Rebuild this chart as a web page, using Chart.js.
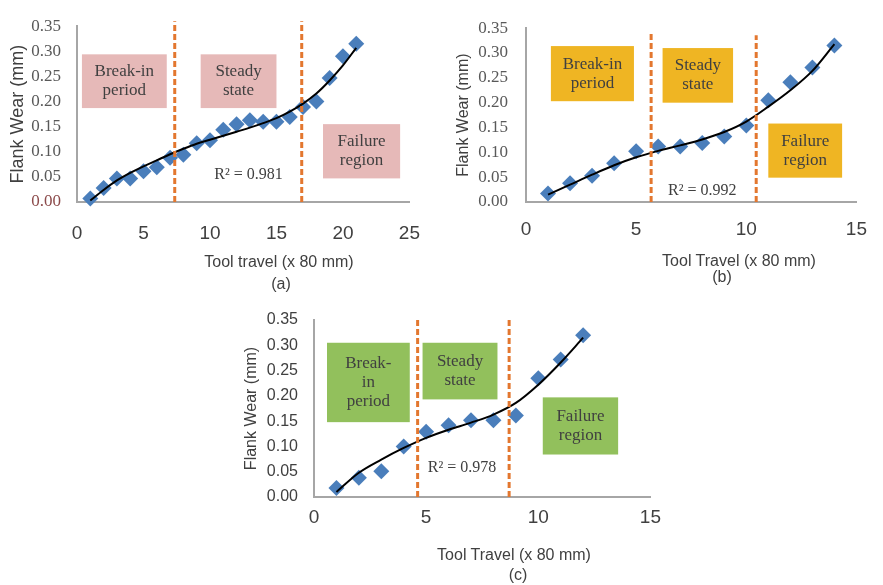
<!DOCTYPE html>
<html>
<head>
<meta charset="utf-8">
<script src="https://cdn.jsdelivr.net/npm/chart.js@4.4.1/dist/chart.umd.min.js"></script>
<style>
  body { margin: 0; background: #fff; }
  #fig { position: relative; width: 883px; height: 585px; overflow: hidden;
         font-family: 'Liberation Sans', Arial, sans-serif; color: #404040; }
  #fig canvas { position: absolute; }
  .cap { position: absolute; font-size: 16px; white-space: nowrap; transform: translate(-50%, -50%); }
</style>
</head>
<body>
<div id="fig">
  <canvas id="chartA" width="440" height="295" style="left:0;top:0"></canvas>
  <canvas id="chartB" width="443" height="295" style="left:440px;top:0"></canvas>
  <canvas id="chartC" width="440" height="295" style="left:230px;top:290px"></canvas>

  <div class="cap" style="left:279px;top:262px">Tool travel (x 80 mm)</div>
  <div class="cap" style="left:281px;top:284px">(a)</div>
  <div class="cap" style="left:739px;top:261px">Tool Travel (x 80 mm)</div>
  <div class="cap" style="left:722px;top:277px">(b)</div>
  <div class="cap" style="left:514px;top:555px">Tool Travel (x 80 mm)</div>
  <div class="cap" style="left:518px;top:575px">(c)</div>
</div>
<script>
const SANS = "'Liberation Sans', Arial, sans-serif";
const SERIF = "'Liberation Serif', 'Times New Roman', serif";

// (a) measured flank wear and its fitted trend
const travelA = [1, 2, 3, 4, 5, 6, 7, 8, 9, 10, 11, 12, 13, 14, 15, 16, 17, 18, 19, 20, 21];
const wearA = [0.007, 0.028, 0.047, 0.047, 0.061, 0.069, 0.088, 0.094, 0.117, 0.123, 0.144, 0.155, 0.163, 0.16, 0.16, 0.169, 0.189, 0.2, 0.247, 0.29, 0.315];
const trendA = [0.003, 0.024, 0.043, 0.058, 0.071, 0.083, 0.095, 0.106, 0.116, 0.124, 0.132, 0.14, 0.148, 0.157, 0.167, 0.18, 0.196, 0.216, 0.242, 0.272, 0.307];

// (b)
const travelB = [1, 2, 3, 4, 5, 6, 7, 8, 9, 10, 11, 12, 13, 14];
const wearB = [0.017, 0.038, 0.053, 0.078, 0.102, 0.112, 0.112, 0.119, 0.132, 0.154, 0.205, 0.241, 0.271, 0.315];
const trendB = [0.015, 0.035, 0.055, 0.074, 0.09, 0.103, 0.114, 0.126, 0.141, 0.162, 0.192, 0.225, 0.264, 0.318];

// (c)
const travelC = [1, 2, 3, 4, 5, 6, 7, 8, 9, 10, 11, 12];
const wearC = [0.018, 0.038, 0.051, 0.1, 0.129, 0.142, 0.152, 0.152, 0.161, 0.235, 0.272, 0.32];
const trendC = [0.01, 0.048, 0.074, 0.097, 0.117, 0.133, 0.147, 0.163, 0.186, 0.222, 0.266, 0.315];

const r2Labels = ['R\u00b2 = 0.981', 'R\u00b2 = 0.992', 'R\u00b2 = 0.978'];

// region boxes, phase boundaries (data units)
const regionsA = {
  color: '#e6b9b8',
  boxes: [
    { x0: 0.37, x1: 6.75, y0: 0.187, y1: 0.294, lines: ['Break-in', 'period'] },
    { x0: 9.3, x1: 15.0, y0: 0.187, y1: 0.294, lines: ['Steady', 'state'] },
    { x0: 18.5, x1: 24.3, y0: 0.047, y1: 0.155, lines: ['Failure', 'region'] }
  ],
  dividers: [{ x: 7.35, top: 0.36 }, { x: 16.9, top: 0.36 }],
  r2: { x: 12.9, y: 0.054 }
};
const regionsB = {
  color: '#efb523',
  boxes: [
    { x0: 1.13, x1: 4.9, y0: 0.203, y1: 0.314, lines: ['Break-in', 'period'] },
    { x0: 6.2, x1: 9.4, y0: 0.2, y1: 0.31, lines: ['Steady', 'state'] },
    { x0: 11.0, x1: 14.35, y0: 0.049, y1: 0.158, lines: ['Failure', 'region'] }
  ],
  dividers: [{ x: 5.68, top: 0.342 }, { x: 10.45, top: 0.336 }],
  r2: { x: 8.0, y: 0.022 }
};
const regionsC = {
  color: '#92c05c',
  boxes: [
    { x0: 0.58, x1: 4.27, y0: 0.148, y1: 0.305, lines: ['Break-', 'in', 'period'] },
    { x0: 4.84, x1: 8.18, y0: 0.193, y1: 0.305, lines: ['Steady', 'state'] },
    { x0: 10.2, x1: 13.56, y0: 0.084, y1: 0.197, lines: ['Failure', 'region'] }
  ],
  dividers: [{ x: 4.62, top: 0.352 }, { x: 8.7, top: 0.352 }],
  r2: { x: 6.6, y: 0.058 }
};

function regionsPlugin(reg, r2Text) {
  return {
    id: 'regions',
    beforeDatasetsDraw(chart) {
      const { ctx, scales: { x, y } } = chart;
      ctx.save();
      reg.boxes.forEach(b => {
        const left = x.getPixelForValue(b.x0);
        const right = x.getPixelForValue(b.x1);
        const top = y.getPixelForValue(b.y1);
        const bottom = y.getPixelForValue(b.y0);
        ctx.fillStyle = reg.color;
        ctx.fillRect(left, top, right - left, bottom - top);
        ctx.fillStyle = '#404040';
        ctx.font = '17px ' + SERIF;
        ctx.textAlign = 'center';
        ctx.textBaseline = 'middle';
        const lh = 19;
        const cy = (top + bottom) / 2 - (b.lines.length - 1) * lh / 2;
        b.lines.forEach((t, i) => ctx.fillText(t, (left + right) / 2, cy + i * lh));
      });
      ctx.restore();
    },
    afterDatasetsDraw(chart) {
      const { ctx, scales: { x, y } } = chart;
      ctx.save();
      ctx.strokeStyle = '#e3772f';
      ctx.lineWidth = 3;
      ctx.setLineDash([6, 3]);
      reg.dividers.forEach(d => {
        const px = x.getPixelForValue(d.x);
        ctx.beginPath();
        ctx.moveTo(px, y.getPixelForValue(0));
        ctx.lineTo(px, y.getPixelForValue(d.top));
        ctx.stroke();
      });
      ctx.setLineDash([]);
      ctx.fillStyle = '#404040';
      ctx.font = '16px ' + SERIF;
      ctx.textAlign = 'center';
      ctx.textBaseline = 'middle';
      ctx.fillText(r2Text, x.getPixelForValue(reg.r2.x), y.getPixelForValue(reg.r2.y));
      ctx.restore();
    }
  };
}

function buildChart(id, o) {
  const points = o.travel.map((t, i) => ({ x: t, y: o.wear[i] }));
  const fit = o.travel.map((t, i) => ({ x: t, y: o.trend[i] }));
  return new Chart(document.getElementById(id), {
    type: 'scatter',
    data: {
      datasets: [
        { label: 'Trend', data: fit, showLine: true, borderColor: '#000', borderWidth: 2,
          pointRadius: 0, cubicInterpolationMode: 'monotone', clip: false, order: 0 },
        { label: 'Flank wear', data: points, pointStyle: 'rectRot', pointRadius: 8,
          backgroundColor: '#4a7ebb', borderWidth: 0, clip: false, order: 1 }
      ]
    },
    options: {
      responsive: false,
      animation: false,
      layout: { padding: { left: 0, top: o.area.top, right: o.width - o.area.right, bottom: 0 } },
      plugins: { legend: { display: false }, tooltip: { enabled: false } },
      scales: {
        x: {
          type: 'linear', min: 0, max: o.xMax,
          afterFit: s => { s.height = o.height - o.area.bottom; },
          grid: { display: false, drawTicks: false },
          border: { color: '#a6a6a6', width: 2 },
          ticks: { stepSize: 5, padding: o.xPad, color: '#404040', font: { family: SANS, size: 19 } }
        },
        y: {
          min: 0, max: 0.35,
          afterFit: s => { s.width = o.area.left; },
          grid: { display: false, drawTicks: false },
          border: { color: '#a6a6a6', width: 2 },
          ticks: {
            stepSize: 0.05, padding: o.yPad,
            callback: v => v.toFixed(2),
            color: o.yTickColor,
            font: { family: o.yTickFont, size: o.yTickSize }
          },
          title: {
            display: true, text: 'Flank Wear (mm)', color: '#404040',
            font: { family: SANS, size: o.yTitleSize },
            padding: { top: o.yTitlePad, bottom: 0 }
          }
        }
      }
    },
    plugins: [regionsPlugin(o.regions, o.r2)]
  });
}

buildChart('chartA', {
  travel: travelA, wear: wearA, trend: trendA, regions: regionsA, r2: r2Labels[0],
  width: 440, height: 295, area: { left: 77, right: 416, top: 15, bottom: 202 },
  xMax: 25, xPad: 20, yPad: 16, yTitleSize: 18, yTitlePad: 7, yTickFont: SERIF, yTickSize: 17,
  yTickColor: c => (c.tick && c.tick.value === 0 ? '#8c4b4b' : '#595959')
});
buildChart('chartB', {
  travel: travelB, wear: wearB, trend: trendB, regions: regionsB, r2: r2Labels[1],
  width: 443, height: 295, area: { left: 86, right: 431, top: 25, bottom: 202 },
  xMax: 15, xPad: 16, yPad: 18, yTitleSize: 16, yTitlePad: 14, yTickFont: SERIF, yTickSize: 17,
  yTickColor: '#595959'
});
buildChart('chartC', {
  travel: travelC, wear: wearC, trend: trendC, regions: regionsC, r2: r2Labels[2],
  width: 440, height: 295, area: { left: 84, right: 422, top: 30, bottom: 207 },
  xMax: 15, xPad: 9, yPad: 16, yTitleSize: 16, yTitlePad: 12, yTickFont: SANS, yTickSize: 16,
  yTickColor: '#404040'
});
</script>
</body>
</html>
